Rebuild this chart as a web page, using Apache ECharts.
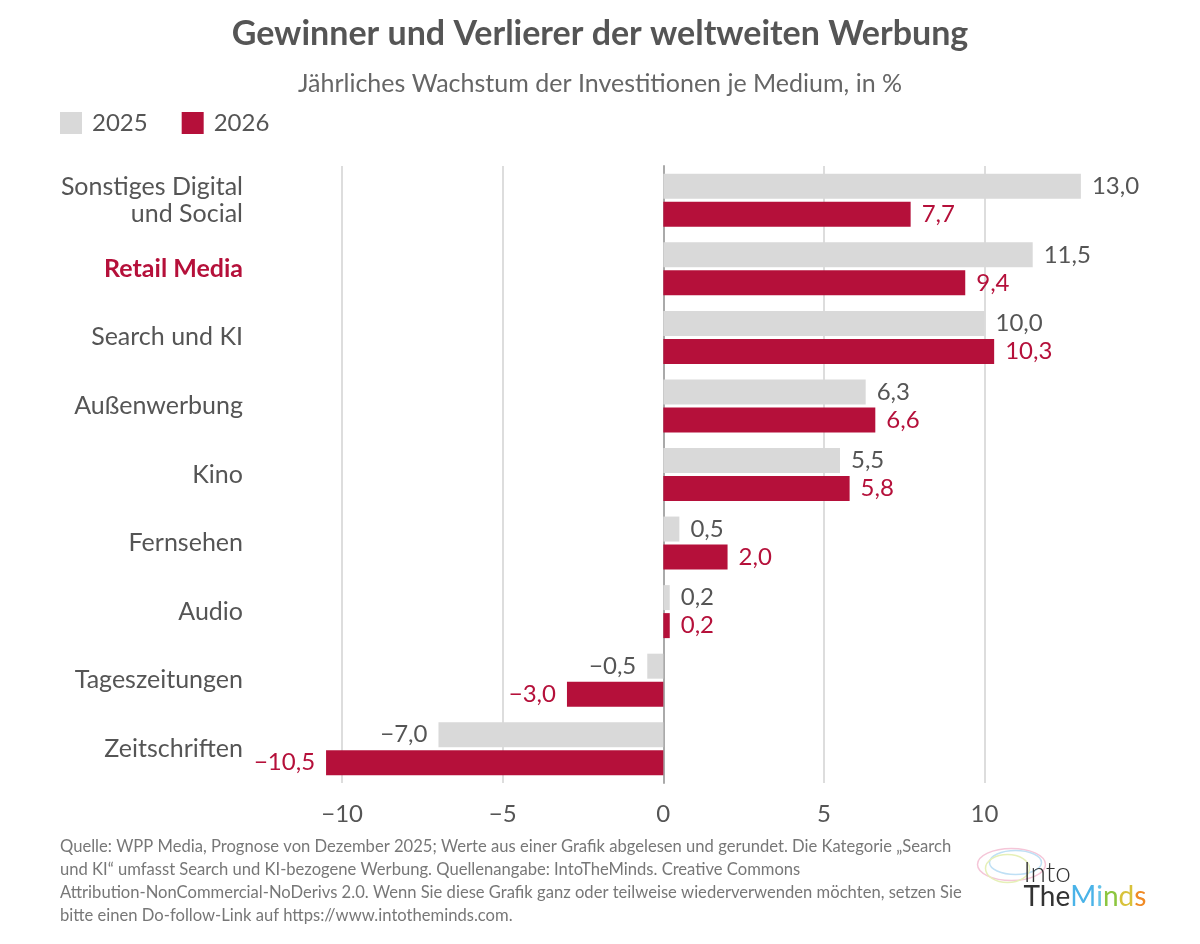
<!DOCTYPE html>
<html>
<head>
<meta charset="utf-8">
<script src="https://cdn.jsdelivr.net/npm/echarts@6/dist/echarts.min.js"></script>
<style>
  html, body { margin: 0; padding: 0; background: #fff; }
  #chart { width: 1200px; height: 944px; }
</style>
</head>
<body>
<div id="chart"></div>
<script>
var chart = echarts.init(document.getElementById('chart'));

// Kategorien von oben nach unten
var categories = ['Sonstiges Digital\nund Social', 'Retail Media', 'Search und KI', 'Außenwerbung',
  'Kino', 'Fernsehen', 'Audio', 'Tageszeitungen', 'Zeitschriften'];
var data2025 = [13.0, 11.5, 10.0, 6.3, 5.5, 0.5, 0.2, -0.5, -7.0];
var data2026 = [7.7, 9.4, 10.3, 6.6, 5.8, 2.0, 0.2, -3.0, -10.5];
var xTicks = [-10, -5, 0, 5, 10];

var RED = '#b5103a';
var GREY = '#d9d9d9';
var TEXT = '#555555';

function fmt(v) {
  return (v < 0 ? '\u2212' : '') + Math.abs(v).toFixed(1).replace('.', ',');
}
// Werte mit Label links bei negativen Balken
function items(arr) {
  return arr.map(function (v) {
    return { value: v, label: { position: v < 0 ? 'left' : 'right' } };
  });
}

var footer = 'Quelle: WPP Media, Prognose von Dezember 2025; Werte aus einer Grafik abgelesen und gerundet. Die Kategorie \u201eSearch\n' +
  'und KI\u201c umfasst Search und KI-bezogene Werbung. Quellenangabe: IntoTheMinds. Creative Commons\n' +
  'Attribution-NonCommercial-NoDerivs 2.0. Wenn Sie diese Grafik ganz oder teilweise wiederverwenden möchten, setzen Sie\n' +
  'bitte einen Do-follow-Link auf https://www.intotheminds.com.';

option = {
  backgroundColor: '#fff',
  textStyle: { fontFamily: 'Lato, "Noto Sans", sans-serif' },
  title: {
    text: 'Gewinner und Verlierer der weltweiten Werbung',
    subtext: 'Jährliches Wachstum der Investitionen je Medium, in %',
    left: 'center',
    top: 12,
    itemGap: 20,
    textStyle: { fontSize: 34, fontWeight: 'bold', color: TEXT, fontFamily: 'Lato' },
    subtextStyle: { fontSize: 25, color: '#666', fontFamily: 'Lato' }
  },
  legend: {
    left: 55,
    top: 106,
    itemWidth: 22,
    itemHeight: 22,
    itemGap: 34,
    icon: 'rect',
    selectedMode: false,
    textStyle: { fontSize: 24, color: TEXT, fontFamily: 'Lato', padding: [0, 0, 0, 5] },
    data: ['2025', '2026']
  },
  grid: {
    left: 310,
    right: 87,
    top: 166,
    bottom: 161,
    containLabel: false
  },
  xAxis: {
    type: 'value',
    min: -11,
    max: 14,
    axisLine: { show: false },
    axisTick: { show: false, customValues: xTicks },
    splitLine: { show: true, lineStyle: { color: '#dddddd', width: 2 } },
    axisLabel: {
      customValues: xTicks,
      fontSize: 24,
      color: TEXT,
      margin: 19,
      formatter: function (v) { return (v < 0 ? '\u2212' : '') + Math.abs(v); }
    }
  },
  yAxis: {
    type: 'category',
    inverse: true,
    data: categories,
    axisLine: { show: true, onZero: true, lineStyle: { color: '#aaaaaa', width: 2 } },
    axisTick: { show: false },
    axisLabel: {
      fontSize: 25,
      color: TEXT,
      lineHeight: 27,
      margin: 67,
      align: 'right',
      formatter: function (v) {
        return v === 'Retail Media' ? '{hl|' + v + '}' : v;
      },
      rich: {
        hl: { fontSize: 25, fontWeight: 'bold', color: RED, fontFamily: 'Lato' }
      }
    }
  },
  series: [
    {
      name: '2025',
      type: 'bar',
      barWidth: 25,
      barGap: '12%',
      itemStyle: { color: GREY },
      label: {
        show: true,
        distance: 11,
        fontSize: 24,
        color: TEXT,
        formatter: function (p) { return fmt(p.value); }
      },
      data: items(data2025)
    },
    {
      name: '2026',
      type: 'bar',
      barWidth: 25,
      barGap: '12%',
      itemStyle: { color: RED },
      label: {
        show: true,
        distance: 11,
        fontSize: 24,
        color: RED,
        formatter: function (p) { return fmt(p.value); }
      },
      data: items(data2026)
    }
  ],
  graphic: [
    {
      type: 'text',
      left: 60,
      top: 835,
      style: {
        text: footer,
        fontSize: 16.6,
        lineHeight: 23,
        fill: '#777',
        fontFamily: 'Lato'
      }
    },
    {
      type: 'group',
      left: 975,
      top: 846,
      children: [
        { type: 'ellipse', shape: { cx: 40, cy: 22, rx: 34, ry: 16 }, style: { fill: 'none', stroke: '#f5c6d8', lineWidth: 1.5 } },
        { type: 'ellipse', shape: { cx: 44, cy: 20, rx: 26, ry: 12 }, style: { fill: 'none', stroke: '#bfe0f5', lineWidth: 1.5 } },
        { type: 'ellipse', shape: { cx: 36, cy: 26, rx: 22, ry: 14 }, style: { fill: 'none', stroke: '#e6f0b8', lineWidth: 1.5 } },
        {
          type: 'text',
          x: 52, y: 16,
          style: { text: 'Into', fontSize: 28, fill: '#333', fontFamily: 'Lato', fontWeight: 300 }
        },
        {
          type: 'text',
          x: 52, y: 40,
          style: {
            text: '{a|The}{m|M}{i|i}{n|n}{d|d}{s|s}',
            fontSize: 28,
            fontFamily: 'Lato',
            rich: {
              a: { fontSize: 28, fill: '#333', fontFamily: 'Lato' },
              m: { fontSize: 28, fill: '#4ab3e8', fontFamily: 'Lato' },
              i: { fontSize: 28, fill: '#66c3e8', fontFamily: 'Lato' },
              n: { fontSize: 28, fill: '#8cc63f', fontFamily: 'Lato' },
              d: { fontSize: 28, fill: '#d8c23a', fontFamily: 'Lato' },
              s: { fontSize: 28, fill: '#f08a24', fontFamily: 'Lato' }
            }
          }
        }
      ]
    }
  ]
};

chart.setOption(option);
</script>
</body>
</html>
